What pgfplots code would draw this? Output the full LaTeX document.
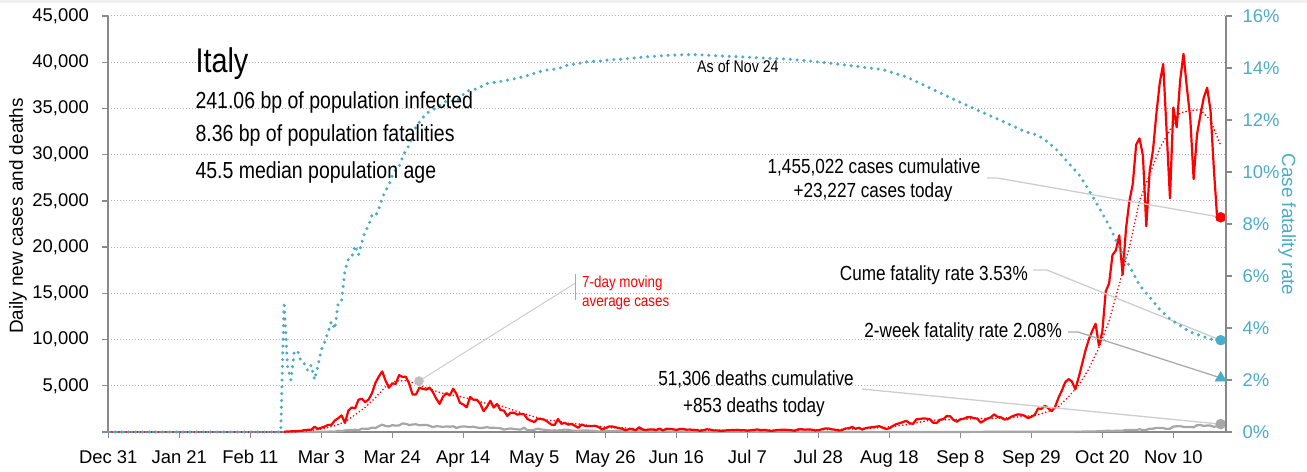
\documentclass[border=0pt]{standalone}
\usepackage{fontspec}
\setmainfont{Liberation Sans}
\newfontfamily\condfont{Liberation Sans}[FakeStretch=0.84]
\usepackage{pgfplots}
\pgfplotsset{compat=1.18}
\definecolor{cfrblue}{RGB}{75,172,198}
\definecolor{axgray}{RGB}{137,137,137}
\definecolor{dgray}{RGB}{166,166,166}
\definecolor{lgray}{RGB}{205,205,205}
\definecolor{mgray}{RGB}{170,170,170}
\definecolor{cgray}{RGB}{191,191,191}
\definecolor{gridgray}{RGB}{175,175,175}
\begin{document}
\begin{tikzpicture}[x=1bp,y=1bp]
\fill[black!6] (-108.3,429) rectangle (1198.7,432);
% ---------------- left axis: cases and deaths ----------------
\begin{axis}[
  at={(0,0)}, anchor=south west,
  width=1117.7bp, height=416bp, scale only axis, clip=false,
  xmin=0, xmax=330.58, ymin=0, ymax=45000,
  scaled y ticks=false, scaled x ticks=false,
  axis x line*=bottom, axis y line*=left,
  axis line style={axgray, line width=1.6bp, -},
  tick style={axgray, line width=1.4bp},
  tick align=outside, major tick length=6bp,
  xtick={0,21,...,315},
  xticklabels={Dec 31,Jan 21,Feb 11,Mar 3,Mar 24,Apr 14,May 5,May 26,Jun 16,Jul 7,Jul 28,Aug 18,Sep 8,Sep 29,Oct 20,Nov 10},
  ytick={0,5000,...,45000},
  yticklabels={{},{5,000},{10,000},{15,000},{20,000},{25,000},{30,000},{35,000},{40,000},{45,000}},
  tick label style={font=\fontsize{18.5}{20}\selectfont, text=black},
  xticklabel style={yshift=-9bp},
  yticklabel style={xshift=-10bp},
  ymajorgrids,
  major grid style={gridgray, line width=1bp, dash pattern=on 1bp off 2bp},
]
% deaths daily
\addplot[dgray, line width=2.2bp, line join=round] coordinates {
(52,1)(53,1)(54,1)(55,4)(56,3)(57,2)(58,5)(59,4)(60,8)
(61,5)(62,18)(63,27)(64,28)(65,41)(66,49)(67,36)(68,133)(69,97)(70,168)(71,196)(72,189)(73,250)(74,175)(75,368)(76,349)(77,345)(78,475)(79,427)(80,627)(81,793)(82,651)(83,601)(84,743)(85,683)(86,712)(87,919)(88,889)(89,756)(90,812)(91,837)
(92,727)(93,760)(94,766)(95,681)(96,525)(97,636)(98,604)(99,542)(100,610)(101,570)(102,619)(103,431)(104,566)(105,602)(106,578)(107,525)(108,575)(109,482)(110,433)(111,454)(112,534)(113,437)(114,464)(115,420)(116,415)(117,260)(118,333)(119,382)(120,323)(121,285)
(122,269)(123,474)(124,174)(125,195)(126,236)(127,369)(128,274)(129,243)(130,194)(131,165)(132,179)(133,172)(134,195)(135,262)(136,242)(137,153)(138,145)(139,99)(140,162)(141,161)(142,156)(143,130)(144,119)(145,50)(146,92)(147,78)(148,117)(149,70)(150,87)(151,111)(152,75)
(153,60)(155,71)(157,85)(159,53)(161,79)(163,53)(165,78)(167,26)(169,43)(171,47)(173,24)(175,18)(177,34)(179,8)(181,6)(182,23)
(186,21)(190,15)(194,7)(198,20)(202,12)(206,10)(210,5)(214,5)(218,10)(222,4)(226,7)(230,4)(234,7)(238,5)(242,1)(246,6)(250,10)(254,10)(258,14)(262,24)(266,20)(270,17)(274,24)
(276,23)(278,18)(280,28)(282,22)(284,29)(286,39)(288,43)(290,55)(291,47)(292,69)(293,73)(294,89)(295,127)(296,136)(297,91)(298,151)(299,128)(300,141)(301,221)(302,205)(303,217)(304,199)(305,297)
(306,208)(307,233)(308,353)(309,352)(310,445)(311,446)(312,425)(313,331)(314,356)(315,580)(316,623)(317,636)(318,550)(319,544)(320,546)(321,504)(322,731)(323,753)(324,653)(325,699)(326,692)(327,562)(328,630)(329,853)
};
% cases daily
\addplot[red, line width=2.2bp, line join=round] coordinates {
(52,20)(53,59)(54,71)(55,77)(56,93)(57,125)(58,205)(59,238)(60,240)
(61,566)(62,342)(63,466)(64,587)(65,769)(66,778)(67,1247)(68,1492)(69,1797)(70,977)(71,2313)(72,2651)(73,2547)(74,3497)(75,3590)(76,3233)(77,3526)(78,4207)(79,5322)(80,5986)(81,6557)(82,5560)(83,4789)(84,5249)(85,5210)(86,6153)(87,5959)(88,5974)(89,5217)(90,4050)(91,4053)
(92,4782)(93,4668)(94,4585)(95,4805)(96,4316)(97,3599)(98,3039)(99,3836)(100,4204)(101,3951)(102,4694)(103,4092)(104,3153)(105,2972)(106,2667)(107,3786)(108,3493)(109,3491)(110,3047)(111,2256)(112,2729)(113,3370)(114,2646)(115,3021)(116,2357)(117,2324)(118,1739)(119,2091)(120,2086)(121,1872)
(122,1965)(123,1900)(124,1389)(125,1221)(126,1075)(127,1444)(128,1401)(129,1327)(130,1083)(131,802)(132,744)(133,1402)(134,888)(135,992)(136,789)(137,875)(138,675)(139,451)(140,813)(141,665)(142,642)(143,652)(144,669)(145,531)(146,300)(147,397)(148,584)(149,593)(150,516)(151,416)(152,355)
(153,178)(154,318)(155,321)(156,177)(157,518)(158,270)(159,197)(160,280)(161,283)(162,202)(163,379)(164,163)(165,346)(166,338)(167,301)(168,210)(169,329)(170,333)(171,251)(172,262)(173,224)(174,218)(175,122)(176,190)(177,296)(178,259)(179,175)(180,174)(181,126)(182,142)
(183,187)(184,201)(185,223)(186,235)(187,192)(188,208)(189,138)(190,193)(191,229)(192,276)(193,188)(194,234)(195,169)(196,114)(197,162)(198,230)(199,233)(200,249)(201,219)(202,190)(203,129)(204,282)(205,306)(206,252)(207,275)(208,255)(209,170)(210,181)(211,289)(212,386)(213,379)
(214,295)(215,239)(216,159)(217,190)(218,384)(219,402)(220,552)(221,347)(222,463)(223,259)(224,412)(225,481)(226,523)(227,574)(228,629)(229,479)(230,320)(231,403)(232,642)(233,845)(234,947)(235,1071)(236,1210)(237,953)(238,878)(239,1367)(240,1411)(241,1462)(242,1444)(243,1365)(244,996)
(245,978)(246,1326)(247,1397)(248,1733)(249,1695)(250,1297)(251,1108)(252,1370)(253,1434)(254,1597)(255,1616)(256,1501)(257,1458)(258,1008)(259,1229)(260,1452)(261,1585)(262,1907)(263,1638)(264,1587)(265,1350)(266,1392)(267,1640)(268,1786)(269,1912)(270,1869)(271,1766)(272,1494)(273,1648)(274,1851)
(275,2548)(276,2499)(277,2844)(278,2578)(279,2257)(280,2677)(281,3678)(282,4458)(283,5372)(284,5724)(285,5456)(286,4619)(287,5901)(288,7332)(289,8804)(290,10010)(291,10925)(292,11705)(293,9338)(294,10874)(295,15199)(296,16079)(297,19143)(298,19644)(299,21273)(300,17012)(301,21994)(302,24991)(303,26831)(304,31084)(305,31758)
(306,29907)(307,22253)(308,28244)(309,30550)(310,34505)(311,37809)(312,39811)(313,32616)(314,25271)(315,35098)(316,32961)(317,37978)(318,40902)(319,37255)(320,33979)(321,27354)(322,32191)(323,34283)(324,36176)(325,37242)(326,34767)(327,28337)(328,22930)(329,23227)
};
% 7-day moving average
\addplot[red, line width=1.8bp, line cap=round, dash pattern=on 0bp off 3.6bp] coordinates {
(0,0)(52,0)(55,32)(58,93)(61,221)(64,378)(67,679)(70,1092)(73,1861)(76,2687)(79,3703)(82,4913)(85,5525)(88,5556)(91,5231)(94,4761)(97,4401)(100,4055)(103,3916)(106,3676)(109,3379)(112,3067)(115,2937)(118,2598)(121,2213)(124,1863)(127,1552)(130,1277)(133,1172)(136,957)(139,867)(142,701)(145,632)(148,448)(152,452)(159,283)(166,284)(173,273)(180,205)(187,187)(194,209)(201,197)(208,241)(215,277)(222,357)(229,480)(236,777)(243,1269)(250,1346)(257,1441)(264,1487)(271,1674)(275,1870)(278,2209)(281,2726)(284,3821)(287,5030)(290,6835)(293,9145)(296,12019)(299,15936)(302,20019)(305,24992)(308,27867)(311,30718)(314,32687)(317,34506)(320,34778)(323,34849)(326,33713)(329,30995)
};
% leader lines
\draw[lgray, line width=1.3bp] (259.9,27477) -- (262.9,27477) -- (329,23227);
\draw[lgray, line width=1.3bp] (273.5,17525) -- (277.6,17525) -- (329,9928);
\draw[mgray, line width=1.3bp] (283.8,10818) -- (286.8,10818) -- (329,5850);
\draw[lgray, line width=1.3bp] (222.9,4652) -- (329,853);
\draw[lgray, line width=1bp] (138.2,16119) -- (91.9,5517);
\draw[mgray, line width=1bp] (138.2,14280) -- (138.2,17092);
% end markers
\addplot[only marks, mark=*, mark size=4.5bp, cgray, mark options={fill=cgray, draw=cgray}] coordinates {(91.9,5517)};
\addplot[only marks, mark=*, mark size=5bp, red, mark options={fill=red, draw=red}] coordinates {(329,23227)};
\addplot[only marks, mark=*, mark size=5bp, dgray, mark options={fill=dgray, draw=dgray}] coordinates {(329,853)};
\end{axis}
% ---------------- right axis: case fatality rate ----------------
\begin{axis}[
  at={(0,0)}, anchor=south west,
  width=1117.7bp, height=416bp, scale only axis, clip=false,
  xmin=0, xmax=330.58, ymin=0, ymax=16,
  scaled y ticks=false,
  axis x line=none, axis y line*=right,
  axis line style={axgray, line width=1.6bp, -},
  tick style={axgray, line width=1.4bp},
  tick align=outside, major tick length=6bp,
  ytick={0,2,...,16},
  yticklabels={0\%,2\%,4\%,6\%,8\%,10\%,12\%,14\%,16\%},
  tick label style={font=\fontsize{18.5}{20}\selectfont, text=cfrblue},
  yticklabel style={xshift=7bp},
]
\addplot[cfrblue, line width=3.4bp, line cap=round, dash pattern=on 0bp off 6.8bp] coordinates {
(0,0)(51,0)(52,5.0)(53,2.53)(54,2.0)(55,3.08)(56,3.13)(57,2.70)(58,2.62)(59,2.36)(60,2.57)(61,2.01)(62,2.55)(63,3.16)(64,3.46)(65,3.84)(66,4.25)(67,3.96)(68,4.96)(69,5.05)(70,6.22)(71,6.64)(72,6.72)(73,7.17)(74,6.81)(75,7.31)(76,7.71)(77,7.94)(78,8.34)(79,8.30)(80,8.58)(81,9.01)(82,9.26)(83,9.51)(84,9.86)(85,10.09)(86,10.20)(87,10.56)(88,10.84)(89,11.03)(90,11.39)(91,11.75)(94,12.25)(97,12.47)(100,12.73)(103,12.73)(106,13.11)(109,13.20)(112,13.40)(115,13.46)(118,13.53)(121,13.61)(124,13.71)(127,13.84)(130,13.93)(133,13.97)(136,14.12)(139,14.17)(142,14.25)(145,14.26)(148,14.31)(152,14.34)(159,14.43)(166,14.49)(173,14.52)(180,14.47)(187,14.43)(194,14.38)(201,14.34)(208,14.26)(215,14.16)(222,14.05)(229,13.94)(236,13.66)(243,13.23)(250,12.80)(257,12.38)(264,11.98)(271,11.56)(275,11.41)(278,11.14)(281,10.79)(284,10.34)(287,9.92)(290,9.30)(293,8.64)(296,7.94)(299,7.10)(302,6.39)(305,5.64)(308,5.19)(311,4.71)(314,4.35)(317,4.09)(320,3.84)(323,3.71)(326,3.57)(329,3.53)
};
\addplot[only marks, mark=*, mark size=5bp, cfrblue, mark options={fill=cfrblue, draw=cfrblue}] coordinates {(329,3.53)};
\addplot[only marks, mark=triangle*, mark size=6.5bp, cfrblue, mark options={fill=cfrblue, draw=cfrblue}] coordinates {(329,2.08)};
\end{axis}
% ---------------- axis titles ----------------
\node[rotate=90, font=\fontsize{19}{21}\selectfont] at (-90.3,216) {Daily new cases and deaths};
\node[rotate=-90, font=\fontsize{19}{21}\selectfont, text=cfrblue] at (1178.7,207.5) {Case fatality rate};
% ---------------- annotations ----------------
\node[anchor=base west, inner sep=0, font=\condfont\fontsize{34.4}{38}\selectfont] at (87,359) {Italy};
\node[anchor=base west, inner sep=0, font=\condfont\fontsize{23.3}{26}\selectfont] at (87,323) {241.06 bp of population infected};
\node[anchor=base west, inner sep=0, font=\condfont\fontsize{23.3}{26}\selectfont] at (87,290) {8.36 bp of population fatalities};
\node[anchor=base west, inner sep=0, font=\condfont\fontsize{23.3}{26}\selectfont] at (87,253) {45.5 median population age};
\node[anchor=base west, inner sep=0, font=\condfont\fontsize{17}{19}\selectfont] at (588.7,359.7) {As of Nov 24};
\node[anchor=base, inner sep=0, font=\condfont\fontsize{20.5}{23}\selectfont] at (765.7,258) {1,455,022 cases cumulative};
\node[anchor=base, inner sep=0, font=\condfont\fontsize{20.5}{23}\selectfont] at (764.7,234) {+23,227 cases today};
\node[anchor=base east, inner sep=0, font=\condfont\fontsize{20.5}{23}\selectfont] at (919.7,151) {Cume fatality rate 3.53\%};
\node[anchor=base east, inner sep=0, font=\condfont\fontsize{20.5}{23}\selectfont] at (953.7,94) {2-week fatality rate 2.08\%};
\node[anchor=base, inner sep=0, font=\condfont\fontsize{20.5}{23}\selectfont] at (647.7,46) {51,306 deaths cumulative};
\node[anchor=base, inner sep=0, font=\condfont\fontsize{20.5}{23}\selectfont] at (645.7,19) {+853 deaths today};
\node[anchor=base west, inner sep=0, text=red, font=\condfont\fontsize{16}{18}\selectfont] at (473.7,144) {7-day moving};
\node[anchor=base west, inner sep=0, text=red, font=\condfont\fontsize{16}{18}\selectfont] at (473.7,125) {average cases};
\pgfresetboundingbox
\path[use as bounding box] (-108.3,-40) rectangle (1198.7,432);
\end{tikzpicture}
\end{document}
